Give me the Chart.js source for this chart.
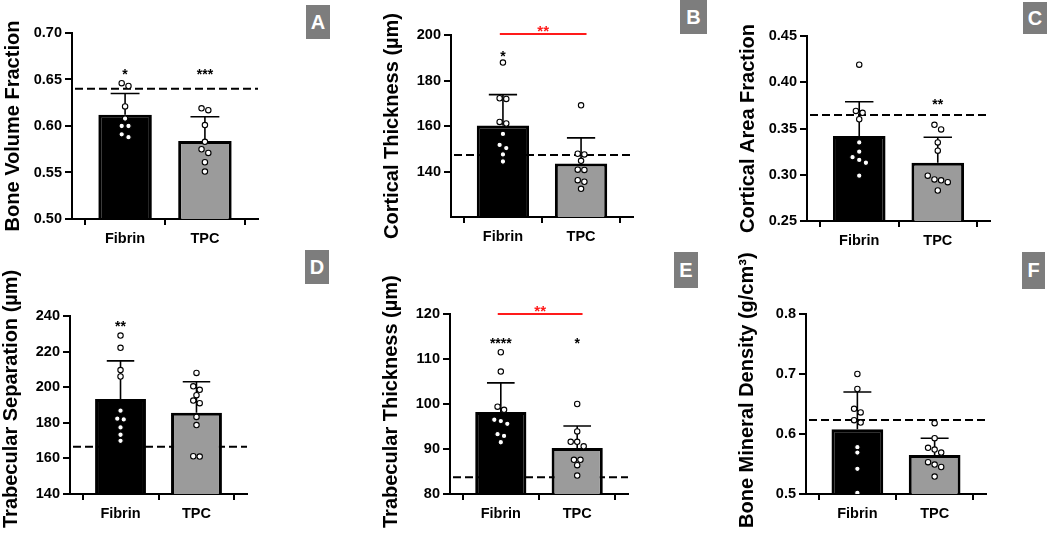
<!DOCTYPE html>
<html><head><meta charset="utf-8">
<script src="https://cdn.jsdelivr.net/npm/chart.js@4.4.1/dist/chart.umd.min.js"></script>
<style>
body{margin:0;background:#fff;width:1050px;height:533px;position:relative;overflow:hidden;font-family:"Liberation Sans",Arial,sans-serif;}
canvas{position:absolute;}
.tag{position:absolute;background:#7d7d7d;color:#fff;font-weight:bold;font-size:20px;display:flex;align-items:center;justify-content:center;font-family:"Liberation Sans",Arial,sans-serif;}
</style></head><body>
<script>
// ---------- DATA ----------
const categories = ['Fibrin', 'TPC'];

// A: Bone Volume Fraction
const bvfFibrin = [0.646, 0.643, 0.621, 0.608, 0.600, 0.600, 0.591, 0.588];
const bvfTPC = [0.619, 0.617, 0.601, 0.583, 0.575, 0.571, 0.561, 0.551];
const bvfMean = [0.612, 0.584];
const bvfSD = [0.023, 0.026];
const bvfControl = 0.640;
const bvfRange = [0.50, 0.70];
const bvfTicks = [0.50, 0.55, 0.60, 0.65, 0.70];
const bvfStars = ['*', '***'];
const bvfStarY = 0.659;

// B: Cortical Thickness
const ctFibrin = [187.9, 172.2, 171.9, 161.8, 161.1, 156.5, 151.7, 150.3, 147.5, 144.4];
const ctTPC = [169.1, 147.8, 147.5, 144.7, 140.8, 140.7, 136.2, 135.5, 132.4];
const ctMean = [160.2, 143.5];
const ctSD = [13.6, 11.3];
const ctControl = 147.2;
const ctRange = [120, 200];
const ctTicks = [140, 160, 180, 200];
const ctStars = ['*', ''];
const ctStarY = 192;
const ctSigY = 200.4;
const ctSigLabel = '**';

// C: Cortical Area Fraction
const caFibrin = [0.419, 0.369, 0.367, 0.360, 0.335, 0.325, 0.319, 0.316, 0.313, 0.299];
const caTPC = [0.354, 0.349, 0.335, 0.326, 0.299, 0.295, 0.294, 0.292, 0.283];
const caMean = [0.342, 0.313];
const caSD = [0.037, 0.0275];
const caControl = 0.3645;
const caRange = [0.25, 0.45];
const caTicks = [0.25, 0.30, 0.35, 0.40, 0.45];
const caStars = ['', '**'];
const caStarY = 0.380;

// D: Trabecular Separation
const tsFibrin = [229.0, 222.1, 209.6, 206.0, 186.8, 182.3, 181.9, 177.4, 173.3, 169.9];
const tsTPC = [208.0, 200.5, 198.5, 195.5, 192.5, 191.0, 183.3, 178.7, 161.2, 161.0];
const tsMean = [193.4, 185.7];
const tsSD = [21.4, 17.4];
const tsControl = 166.5;
const tsRange = [140, 240];
const tsTicks = [140, 160, 180, 200, 220, 240];
const tsStars = ['**', ''];
const tsStarY = 236;

// E: Trabecular Thickness
const ttFibrin = [111.5, 107.2, 99.4, 98.7, 96.5, 96.2, 95.6, 93.3, 92.9, 91.5];
const ttTPC = [100.0, 93.9, 91.6, 91.6, 90.6, 87.6, 87.6, 86.4, 84.1];
const ttMean = [98.2, 90.2];
const ttSD = [6.5, 4.9];
const ttControl = 83.7;
const ttRange = [80, 120];
const ttTicks = [80, 90, 100, 110, 120];
const ttStars = ['****', '*'];
const ttStarY = 114.3;
const ttSigY = 120;
const ttSigLabel = '**';

// F: Bone Mineral Density
const bmdFibrin = [0.700, 0.675, 0.642, 0.636, 0.623, 0.619, 0.578, 0.569, 0.542, 0.502];
const bmdTPC = [0.618, 0.593, 0.577, 0.574, 0.569, 0.553, 0.549, 0.545, 0.529];
const bmdMean = [0.608, 0.565];
const bmdSD = [0.062, 0.028];
const bmdControl = 0.6235;
const bmdRange = [0.5, 0.8];
const bmdTicks = [0.5, 0.6, 0.7, 0.8];
const bmdStars = ['', ''];
const bmdStarY = null;

// ---------- PANELS ----------
const panels = [
  {tag:'A', title:'Bone Volume Fraction', groups:[bvfFibrin,bvfTPC], mean:bvfMean, sd:bvfSD, control:bvfControl, range:bvfRange, ticks:bvfTicks, dec:2, stars:bvfStars, starY:bvfStarY, sigY:null, sigLabel:''},
  {tag:'B', title:'Cortical Thickness (µm)', groups:[ctFibrin,ctTPC], mean:ctMean, sd:ctSD, control:ctControl, range:ctRange, ticks:ctTicks, dec:0, stars:ctStars, starY:ctStarY, sigY:ctSigY, sigLabel:ctSigLabel},
  {tag:'C', title:'Cortical Area Fraction', groups:[caFibrin,caTPC], mean:caMean, sd:caSD, control:caControl, range:caRange, ticks:caTicks, dec:2, stars:caStars, starY:caStarY, sigY:null, sigLabel:''},
  {tag:'D', title:'Trabecular Separation (µm)', groups:[tsFibrin,tsTPC], mean:tsMean, sd:tsSD, control:tsControl, range:tsRange, ticks:tsTicks, dec:0, stars:tsStars, starY:tsStarY, sigY:null, sigLabel:''},
  {tag:'E', title:'Trabecular Thickness (µm)', groups:[ttFibrin,ttTPC], mean:ttMean, sd:ttSD, control:ttControl, range:ttRange, ticks:ttTicks, dec:0, stars:ttStars, starY:ttStarY, sigY:ttSigY, sigLabel:ttSigLabel},
  {tag:'F', title:'Bone Mineral Density (g/cm³)', groups:[bmdFibrin,bmdTPC], mean:bmdMean, sd:bmdSD, control:bmdControl, range:bmdRange, ticks:bmdTicks, dec:1, stars:bmdStars, starY:bmdStarY, sigY:null, sigLabel:''}
];

// ---------- LAYOUT (page pixels) ----------
const layouts = {
  A:{canvas:[0,0,300,265],   area:[72,33,258,219],   tag:[306,5,24,34]},
  B:{canvas:[340,0,340,265], area:[451,35,633,217],  tag:[680,0,27,34]},
  C:{canvas:[690,0,330,265], area:[807,36,990,221],  tag:[1023,2,24,32]},
  D:{canvas:[0,245,300,288], area:[70,316,247,494],  tag:[305,250,24,34]},
  E:{canvas:[340,245,340,288], area:[450,314,628,494], tag:[674,252,24,36]},
  F:{canvas:[690,245,330,288], area:[806,314,986,494], tag:[1022,252,23,37]}
};

const FONT = '"Liberation Sans", Arial, sans-serif';
const GRAY = '#9b9b9b';

// spread points with nearly equal values side by side (Prism-like)
function spread(values, range){
  const thr = 0.028 * (range[1]-range[0]);
  const idx = values.map((v,i)=>i).sort((a,b)=>values[b]-values[a]);
  const off = new Array(values.length).fill(0);
  let cluster = [idx[0]];
  const flush = () => { const n = cluster.length; cluster.forEach((k,j)=>{ off[k] = (j-(n-1)/2)*0.085; }); };
  for (let j=1;j<idx.length;j++){
    if (values[cluster[cluster.length-1]] - values[idx[j]] < thr) cluster.push(idx[j]);
    else { flush(); cluster=[idx[j]]; }
  }
  flush();
  return off;
}

function makePlugin(p, L){
  return {
    id:'decor'+p.tag,
    beforeDatasetsDraw(chart){
      const {ctx, chartArea:a, scales:{y}} = chart;
      const yy = y.getPixelForValue(p.control);
      ctx.save();
      ctx.strokeStyle='#000'; ctx.lineWidth=2; ctx.setLineDash([8,4]);
      ctx.beginPath(); ctx.moveTo(a.left+3, yy); ctx.lineTo(a.right, yy); ctx.stroke();
      ctx.restore();
    },
    afterDatasetDraw(chart, args){
      if (args.meta.type !== 'bar') return;
      const {ctx, scales:{y}} = chart;
      ctx.save();
      ctx.strokeStyle='#000'; ctx.lineWidth=1.6;
      args.meta.data.forEach((el,i)=>{
        const top = y.getPixelForValue(p.mean[i]+p.sd[i]);
        const cw = el.width*0.54;
        ctx.beginPath();
        ctx.moveTo(el.x, el.y); ctx.lineTo(el.x, top);
        ctx.moveTo(el.x-cw/2, top); ctx.lineTo(el.x+cw/2, top);
        ctx.stroke();
      });
      ctx.restore();
    },
    afterDraw(chart){
      const {ctx, chartArea:a, scales:{x,y}} = chart;
      ctx.save();
      // significance stars
      ctx.fillStyle='#000'; ctx.font='bold 14px '+FONT; ctx.textAlign='center'; ctx.textBaseline='alphabetic';
      p.stars.forEach((s,i)=>{
        if (!s) return;
        ctx.fillText(s, x.getPixelForValue(i), y.getPixelForValue(p.starY)+8);
      });
      // red comparison bar
      if (p.sigY !== null){
        const yy = y.getPixelForValue(p.sigY);
        const x0 = x.getPixelForValue(-0.04), x1 = x.getPixelForValue(1.07);
        ctx.strokeStyle='#ff1a1a'; ctx.lineWidth=2;
        ctx.beginPath(); ctx.moveTo(x0,yy); ctx.lineTo(x1,yy); ctx.stroke();
        ctx.fillStyle='#ff1a1a'; ctx.font='bold 15px '+FONT;
        ctx.fillText(p.sigLabel, (x0+x1)/2, yy-7+8.5);
      }
      // y axis title
      ctx.fillStyle='#000'; ctx.font='bold 20px '+FONT; ctx.textAlign='center'; ctx.textBaseline='middle';
      const w = ctx.measureText(p.title).width;
      let cy = (a.top+a.bottom)/2;
      const limit = chart.height - 5;
      if (cy + w/2 > limit) cy = limit - w/2;
      ctx.translate(a.left-59, cy); ctx.rotate(-Math.PI/2);
      ctx.fillText(p.title, 0, 0);
      ctx.restore();
    }
  };
}

panels.forEach(p=>{
  const L = layouts[p.tag];
  const [cl,ct,cw,ch] = L.canvas;
  const [al,at,ar,ab] = L.area;
  const cv = document.createElement('canvas');
  cv.width=cw; cv.height=ch;
  cv.style.left=cl+'px'; cv.style.top=ct+'px'; cv.style.width=cw+'px'; cv.style.height=ch+'px';
  document.body.appendChild(cv);
  const tg = document.createElement('div');
  tg.className='tag'; tg.textContent=p.tag;
  tg.style.left=L.tag[0]+'px'; tg.style.top=L.tag[1]+'px'; tg.style.width=L.tag[2]+'px'; tg.style.height=L.tag[3]+'px';
  document.body.appendChild(tg);

  const pointData = [];
  p.groups.forEach((vals,gi)=>{
    const off = spread(vals, p.range);
    vals.forEach((v,k)=>pointData.push({x: gi+off[k], y: v}));
  });

  new Chart(cv, {
    type:'bar',
    data:{
      datasets:[
        {type:'bar', data:p.mean.map((m,i)=>({x:i, y:m})), backgroundColor:['#000', GRAY], borderColor:'#000', borderWidth:3, borderSkipped:'bottom', barPercentage:0.67, categoryPercentage:1, order:1},
        {type:'scatter', data:pointData, pointStyle:'circle', pointRadius:2.7, pointBackgroundColor:'#fff', pointBorderColor:'#000', pointBorderWidth:1.1, order:0}
      ]
    },
    options:{
      responsive:false, animation:false, devicePixelRatio:1,
      layout:{padding:{left:0, top:at-ct, right:(cl+cw)-ar, bottom:0}},
      plugins:{legend:{display:false}, tooltip:{enabled:false}, title:{display:false}},
      scales:{
        x:{type:'linear', min:-0.665, max:1.665, offset:false,
           afterBuildTicks:(s)=>{ s.ticks = categories.map((c,i)=>({value:i})); },
           afterFit:(s)=>{ s.height = (ct+ch)-ab; },
           ticks:{callback:(v)=>categories[v], autoSkip:false, maxRotation:0, color:'#000', padding:5, font:{family:FONT, size:14.5, weight:'bold'}},
           grid:{display:true, drawOnChartArea:false, drawTicks:true, tickLength:6, color:'#000', lineWidth:2},
           border:{display:true, color:'#000', width:2}},
        y:{type:'linear', min:p.range[0], max:p.range[1],
           afterBuildTicks:(s)=>{ s.ticks = p.ticks.map(v=>({value:v})); },
           afterFit:(s)=>{ s.width = al-cl; },
           ticks:{callback:(v)=>Number(v).toFixed(p.dec), autoSkip:false, color:'#000', padding:3, font:{family:FONT, size:14.5, weight:'bold'}},
           grid:{display:true, drawOnChartArea:false, drawTicks:true, tickLength:7, color:'#000', lineWidth:2},
           border:{display:true, color:'#000', width:2}}
      }
    },
    plugins:[makePlugin(p, L)]
  });
});
</script>
</body></html>
